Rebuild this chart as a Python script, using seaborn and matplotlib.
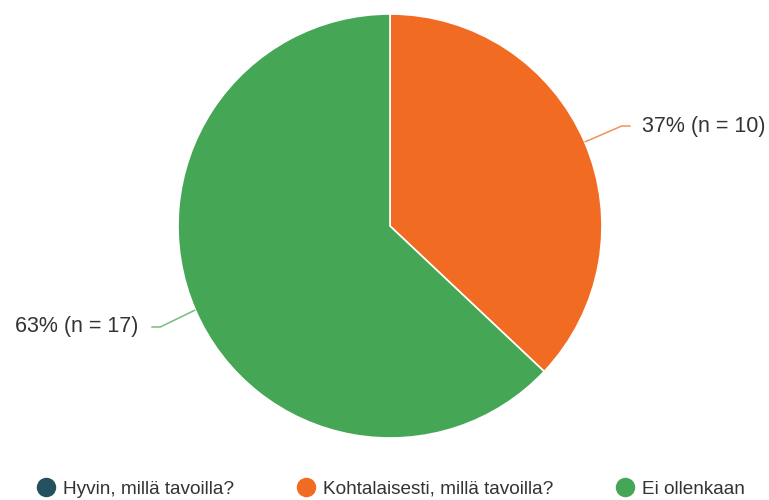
import numpy as np
import matplotlib
matplotlib.use("Agg")
import matplotlib.pyplot as plt
from matplotlib.lines import Line2D
import seaborn as sns

categories = ["Hyvin, millä tavoilla?", "Kohtalaisesti, millä tavoilla?", "Ei ollenkaan"]
counts = [0, 10, 17]
percent_labels = ["0% (n = 0)", "37% (n = 10)", "63% (n = 17)"]
colors = ["#24515E", "#F26B23", "#45A756"]

sns.set_theme(style="white")
plt.rcParams['font.family'] = ['Liberation Sans', 'DejaVu Sans']

W, H = 769, 500
fig = plt.figure(figsize=(W / 100, H / 100), dpi=100)
ax = fig.add_axes([0, 0, 1, 1])

cx, cy, r = 390, H - 226, 212
wedges, _ = ax.pie(counts, colors=colors, startangle=90, counterclock=False,
                   center=(cx, cy), radius=r, frame=True,
                   wedgeprops=dict(edgecolor="white", linewidth=1.2))
ax.set_xlim(0, W)
ax.set_ylim(0, H)
ax.set_aspect('equal')
ax.axis('off')

for w, n, lab, col in zip(wedges, counts, percent_labels, colors):
    if n == 0:
        continue
    ang = np.deg2rad((w.theta1 + w.theta2) / 2)
    ex, ey = cx + r * np.cos(ang), cy + r * np.sin(ang)
    side = 1 if np.cos(ang) > 0 else -1
    kx = ex + side * 37 if side > 0 else ex - 35
    ky = ey + 16 if np.sin(ang) > 0 else ey - 17
    hx = kx + side * 9
    ax.plot([ex, kx, hx], [ey, ky, ky], color=col, lw=1.1, alpha=0.75,
            solid_capstyle='butt')
    tx = hx + (11 if side > 0 else -13)
    ax.text(tx, ky, lab, ha='left' if side > 0 else 'right', va='center',
            fontsize=15.5, color="#333333")

handles = [Line2D([0], [0], marker='o', linestyle='none', markersize=13,
                  markerfacecolor=c, markeredgecolor=c) for c in colors]
fig.legend(handles, categories, loc='center', bbox_to_anchor=(391 / W, 1 - 489 / H),
           ncol=3, frameon=False, fontsize=13.7, handlelength=0.95,
           handletextpad=0.42, columnspacing=3.3, labelcolor="#333333",
           borderpad=0, borderaxespad=0)

fig.savefig("out.png", dpi=100)
